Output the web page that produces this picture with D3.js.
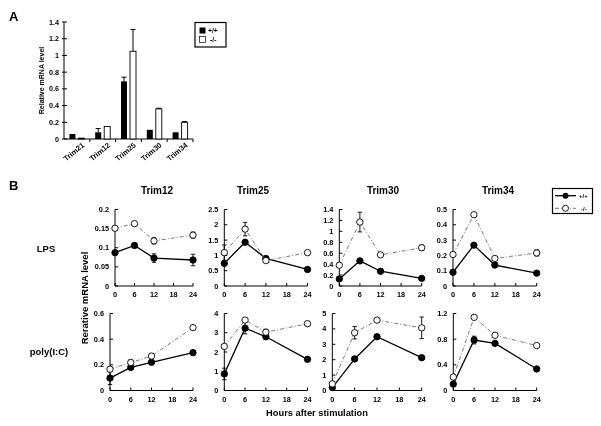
<!DOCTYPE html>
<html><head><meta charset="utf-8">
<script src="https://cdn.jsdelivr.net/npm/d3@7"></script>
<style>body{margin:0;background:#fff}svg{display:block;font-family:"Liberation Sans",Arial,sans-serif;font-weight:bold;will-change:transform}text{fill:#000}</style>
</head><body>
<script>
// ---------- Panel A data ----------
const barGenes = ["Trim21","Trim12","Trim25","Trim30","Trim34"];
const barWT    = [0.06, 0.08, 0.69, 0.11, 0.08];
const barWTErr = [0.00, 0.045, 0.05, 0.00, 0.00];
const barKO    = [0.01, 0.15, 1.05, 0.36, 0.20];
const barKOErr = [0.00, 0.00, 0.26, 0.008, 0.008];
const barYTicks = [0,0.2,0.4,0.6,0.8,1,1.2,1.4];

// ---------- Panel B data ----------
const hours = [0,6,12,24];
const xTicks = [0,6,12,18,24];
const genes = ["Trim12","Trim25","Trim30","Trim34"];
const stimuli = ["LPS","poly(I:C)"];
const lpsWT    = [[0.087,0.106,0.073,0.068],[0.74,1.43,0.90,0.54],[0.13,0.46,0.27,0.14],[0.09,0.267,0.137,0.084]];
const lpsWTErr = [[0,0,0.011,0.015],[0,0,0,0],[0,0,0,0],[0,0,0,0]];
const lpsKO    = [[0.151,0.163,0.118,0.133],[1.09,1.86,0.83,1.09],[0.38,1.17,0.57,0.70],[0.206,0.466,0.18,0.216]];
const lpsKOErr = [[0,0,0.008,0.008],[0.25,0.22,0,0.03],[0,0.18,0,0.05],[0,0,0,0.02]];
const polyWT    = [[0.097,0.18,0.22,0.295],[0.86,3.24,2.79,1.62],[0.19,2.05,3.49,2.13],[0.10,0.786,0.735,0.336]];
const polyWTErr = [[0.05,0,0,0],[0.3,0.3,0,0],[0,0,0,0],[0,0.06,0,0.02]];
const polyKO    = [[0.166,0.218,0.268,0.49],[2.29,3.66,3.03,3.47],[0.43,3.75,4.57,4.07],[0.21,1.14,0.86,0.70]];
const polyKOErr = [[0.02,0.02,0,0],[0,0,0.15,0.1],[0,0.4,0,0.7],[0,0,0,0]];
const lpsYMax  = [0.2,2.5,1.4,0.5];
const lpsYStep = [0.05,0.5,0.2,0.1];
const polyYMax  = [0.6,4,5,1.2];
const polyYStep = [0.2,1,1,0.4];

const W = 601, H = 426;
const svg = d3.select("body").append("svg").attr("width",W).attr("height",H);
svg.append("rect").attr("width",W).attr("height",H).attr("fill","#fff");
const fmt = d => String(+d.toFixed(2));

// ---------- Panel A ----------
svg.append("text").attr("x",9).attr("y",21).attr("font-size",13).text("A");
const ax = d3.scaleBand().domain(barGenes).range([64,193]);
const ay = d3.scaleLinear().domain([0,1.4]).range([139,22]);
const gA = svg.append("g");
gA.append("line").attr("x1",64).attr("x2",64).attr("y1",ay(1.4)).attr("y2",ay(0)).attr("stroke","#000");
gA.append("line").attr("x1",64).attr("x2",193).attr("y1",ay(0)).attr("y2",ay(0)).attr("stroke","#000");
barYTicks.forEach(t=>{
  gA.append("line").attr("x1",62).attr("x2",67).attr("y1",ay(t)).attr("y2",ay(t)).attr("stroke","#000");
  gA.append("text").attr("x",59).attr("y",ay(t)+2.5).attr("text-anchor","end").attr("font-size",7.2).text(fmt(t));
});
barGenes.forEach((g,i)=>{
  const c = ax(g)+ax.bandwidth()/2;
  gA.append("line").attr("x1",ax(g)+ax.bandwidth()).attr("x2",ax(g)+ax.bandwidth()).attr("y1",ay(0)).attr("y2",ay(0)+3).attr("stroke","#000");
  const bw = 6;
  gA.append("rect").attr("x",c-bw-1.5).attr("width",bw).attr("y",ay(barWT[i])).attr("height",ay(0)-ay(barWT[i])).attr("fill","#000");
  if(barWTErr[i]>0){
    gA.append("line").attr("x1",c-1.5-bw/2).attr("x2",c-1.5-bw/2).attr("y1",ay(barWT[i])).attr("y2",ay(barWT[i]+barWTErr[i])).attr("stroke","#000");
    gA.append("line").attr("x1",c-1.5-bw/2-2.5).attr("x2",c-1.5-bw/2+2.5).attr("y1",ay(barWT[i]+barWTErr[i])).attr("y2",ay(barWT[i]+barWTErr[i])).attr("stroke","#000");
  }
  gA.append("rect").attr("x",c+1.5).attr("width",bw).attr("y",ay(barKO[i])).attr("height",ay(0)-ay(barKO[i])).attr("fill","#fff").attr("stroke","#000").attr("stroke-width",0.9);
  if(barKOErr[i]>0){
    gA.append("line").attr("x1",c+1.5+bw/2).attr("x2",c+1.5+bw/2).attr("y1",ay(barKO[i])).attr("y2",ay(barKO[i]+barKOErr[i])).attr("stroke","#000");
    gA.append("line").attr("x1",c+1.5+bw/2-2.5).attr("x2",c+1.5+bw/2+2.5).attr("y1",ay(barKO[i]+barKOErr[i])).attr("y2",ay(barKO[i]+barKOErr[i])).attr("stroke","#000");
  }
  gA.append("text").attr("transform",`translate(${c+8},${ay(0)+7}) rotate(-40)`).attr("text-anchor","end").attr("font-size",7.5).text(g);
});
gA.append("text").attr("transform",`translate(44,${(ay(0)+ay(1.4))/2}) rotate(-90)`).attr("text-anchor","middle").attr("font-size",7).text("Relative mRNA level");
const lgA = svg.append("g");
lgA.append("rect").attr("x",195).attr("y",22.5).attr("width",31).attr("height",24.5).attr("fill","#fff").attr("stroke","#000").attr("stroke-width",1.2);
lgA.append("rect").attr("x",199.5).attr("y",27.5).attr("width",6).attr("height",6).attr("fill","#000");
lgA.append("rect").attr("x",199.5).attr("y",36.5).attr("width",6).attr("height",6).attr("fill","#fff").attr("stroke","#000").attr("stroke-width",0.7);
lgA.append("text").attr("x",208).attr("y",33).attr("font-size",6.8).text("+/+");
lgA.append("text").attr("x",210).attr("y",42).attr("font-size",6.8).text("-/-");

// ---------- Panel B ----------
svg.append("text").attr("x",9).attr("y",190).attr("font-size",13).text("B");
const colRight = [193,307.5,421.7,536.7];
const rowLeft = [[115,224.3,339.3,453],[110,224.3,332.3,453.3]];
const rowTop = [209.5,313.5], rowBottom = [286,390.5];
const titleX = [157,253,383,498];
genes.forEach((g,j)=>svg.append("text").attr("x",titleX[j]).attr("y",194).attr("text-anchor","middle").attr("font-size",10).text(g));
svg.append("text").attr("x",46).attr("y",252).attr("text-anchor","middle").attr("font-size",9.5).text(stimuli[0]);
svg.append("text").attr("x",49).attr("y",355).attr("text-anchor","middle").attr("font-size",9.5).text(stimuli[1]);
svg.append("text").attr("transform","translate(88,298) rotate(-90)").attr("text-anchor","middle").attr("font-size",9.5).text("Rerative mRNA level");
svg.append("text").attr("x",317).attr("y",416).attr("text-anchor","middle").attr("font-size",9.3).text("Hours after stimulation");

const rows = [
  {wt:lpsWT,wtE:lpsWTErr,ko:lpsKO,koE:lpsKOErr,ymax:lpsYMax,ystep:lpsYStep},
  {wt:polyWT,wtE:polyWTErr,ko:polyKO,koE:polyKOErr,ymax:polyYMax,ystep:polyYStep}
];
rows.forEach((r,ri)=>{
  genes.forEach((g,j)=>{
    const x = d3.scaleLinear().domain([0,24]).range([rowLeft[ri][j],colRight[j]]);
    const y = d3.scaleLinear().domain([0,r.ymax[j]]).range([rowBottom[ri],rowTop[ri]]);
    const gp = svg.append("g");
    const yt = d3.range(0, r.ymax[j]+r.ystep[j]/2, r.ystep[j]);
    gp.append("line").attr("x1",x(0)).attr("x2",x(0)).attr("y1",y(r.ymax[j])).attr("y2",y(0)).attr("stroke","#000");
    gp.append("line").attr("x1",x(0)).attr("x2",x(24)).attr("y1",y(0)).attr("y2",y(0)).attr("stroke","#000");
    yt.forEach(t=>{
      gp.append("line").attr("x1",x(0)).attr("x2",x(0)+3).attr("y1",y(t)).attr("y2",y(t)).attr("stroke","#000");
      gp.append("text").attr("x",x(0)-6).attr("y",y(t)+2.5).attr("text-anchor","end").attr("font-size",7.3).text(fmt(t));
    });
    xTicks.forEach(t=>{
      gp.append("line").attr("x1",x(t)).attr("x2",x(t)).attr("y1",y(0)).attr("y2",y(0)-3).attr("stroke","#000");
      gp.append("text").attr("x",x(t)).attr("y",y(0)+11).attr("text-anchor","middle").attr("font-size",7.3).text(t);
    });
    const line = d3.line().x((d,i)=>x(hours[i])).y(d=>y(d));
    const drawSeries = (vals, errs, filled)=>{
      gp.append("path").attr("d",line(vals)).attr("fill","none")
        .attr("stroke",filled?"#000":"#555").attr("stroke-width",filled?1.3:0.8)
        .attr("stroke-dasharray",filled?null:"4,2,1,2");
      vals.forEach((v,i)=>{
        const e = errs[i];
        if(e>0){
          const cx = x(hours[i]);
          gp.append("line").attr("x1",cx).attr("x2",cx).attr("y1",y(v-e)).attr("y2",y(v+e)).attr("stroke","#000").attr("stroke-width",0.9);
          [v-e,v+e].forEach(vv=>gp.append("line").attr("x1",cx-2.2).attr("x2",cx+2.2).attr("y1",y(vv)).attr("y2",y(vv)).attr("stroke","#000").attr("stroke-width",0.9));
        }
      });
      vals.forEach((v,i)=>{
        gp.append("circle").attr("cx",x(hours[i])).attr("cy",y(v)).attr("r",3.2)
          .attr("fill",filled?"#000":"#fff").attr("stroke","#000").attr("stroke-width",0.9);
      });
    };
    drawSeries(r.wt[j], r.wtE[j], true);
    drawSeries(r.ko[j], r.koE[j], false);
  });
});
const lgB = svg.append("g");
lgB.append("rect").attr("x",552.5).attr("y",188.5).attr("width",40).attr("height",25).attr("fill","#fff").attr("stroke","#000").attr("stroke-width",1.2);
lgB.append("line").attr("x1",555).attr("x2",576).attr("y1",195.7).attr("y2",195.7).attr("stroke","#000").attr("stroke-width",1.3);
lgB.append("circle").attr("cx",565.5).attr("cy",195.7).attr("r",3).attr("fill","#000");
lgB.append("text").attr("x",579).attr("y",198).attr("font-size",6).text("+/+");
lgB.append("line").attr("x1",555).attr("x2",576).attr("y1",208.3).attr("y2",208.3).attr("stroke","#555").attr("stroke-width",0.8).attr("stroke-dasharray","4,2,1,2");
lgB.append("circle").attr("cx",565.5).attr("cy",208.3).attr("r",3).attr("fill","#fff").attr("stroke","#000").attr("stroke-width",0.9);
lgB.append("text").attr("x",581).attr("y",210.5).attr("font-size",6).text("-/-");
</script>
</body></html>
